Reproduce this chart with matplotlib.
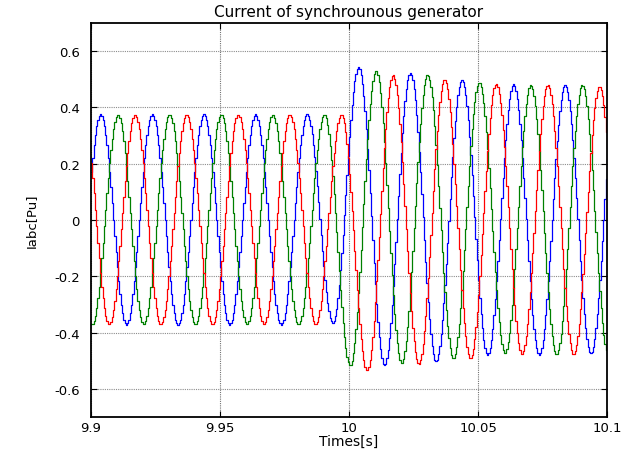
import numpy as np
import matplotlib
matplotlib.use("Agg")
import matplotlib.pyplot as plt

# half-cycle extrema (pu) of each phase current
# successive extrema are 0.01 s apart, starting at the given time
half_period = 0.01
ia_start = 9.8935
ia_peaks = [-0.372, 0.375, -0.372, 0.375, -0.372, 0.375, -0.372, 0.375, -0.372, 0.375,
            -0.365, 0.542, -0.517, 0.523, -0.502, 0.497, -0.478, 0.483, -0.478, 0.479,
            -0.474, 0.475]
ib_start = 9.8902
ib_peaks = [0.375, -0.372, 0.375, -0.372, 0.375, -0.372, 0.375, -0.372, 0.375, -0.372,
            0.375, -0.517, 0.532, -0.509, 0.515, -0.491, 0.489, -0.474, 0.479, -0.478,
            0.479, -0.475]
ic_start = 9.8968
ic_peaks = [0.375, -0.372, 0.375, -0.372, 0.375, -0.372, 0.375, -0.372, 0.375, -0.372,
            0.375, -0.535, 0.515, -0.511, 0.499, -0.491, 0.483, -0.478, 0.479, -0.478,
            0.473, -0.470]

t_span = [9.9, 10.1]
t_step = 0.0005      # sample-and-hold step of the simulation output
x_ticks = [9.9, 9.95, 10.0, 10.05, 10.1]
x_ticklabels = ["9.9", "9.95", "10", "10.05", "10.1"]
y_ticks = [-0.6, -0.4, -0.2, 0.0, 0.2, 0.4, 0.6]
y_ticklabels = ["-0.6", "-0.4", "-0.2", "0", "0.2", "0.4", "0.6"]


def sampled_wave(t, t0, extrema):
    """half-cosine arcs joining the read extrema"""
    ext = np.asarray(extrema)
    tk = t0 + half_period * np.arange(len(ext))
    k = np.clip(np.searchsorted(tk, t, side="right") - 1, 0, len(ext) - 2)
    frac = (t - tk[k]) / half_period
    va, vb = ext[k], ext[k + 1]
    return (va + vb) / 2 + (va - vb) / 2 * np.cos(np.pi * frac)


plt.rcParams["font.family"] = ["DejaVu Sans"]

t = np.arange(t_span[0], t_span[1] + t_step, t_step)
fig = plt.figure(figsize=(6.34, 4.52), dpi=100)
ax = fig.add_axes([91 / 634, 34 / 452, 516 / 634, 394 / 452])

for start, ext, col in [(ia_start, ia_peaks, "#0000ff"),
                        (ib_start, ib_peaks, "#008000"),
                        (ic_start, ic_peaks, "#ff0000")]:
    ax.plot(t, sampled_wave(t, start, ext), color=col, lw=0.9, drawstyle="steps-post")

ax.set_xlim(t_span)
ax.set_ylim(-0.7, 0.7)
ax.set_xticks(x_ticks)
ax.set_xticklabels(x_ticklabels)
ax.set_yticks(y_ticks)
ax.set_yticklabels(y_ticklabels)
ax.tick_params(direction="in", length=4, width=0.8, top=True, right=True,
               labelsize=9.5)
ax.tick_params(axis="y", pad=8)
ax.tick_params(axis="x", pad=3)
for s in ax.spines.values():
    s.set_linewidth(1.3)
ax.xaxis.grid(True, color="0.45", lw=0.8, linestyle=(0, (1, 1)))
ax.yaxis.grid(True, color="0.55", lw=0.8, linestyle=(0, (1, 1)))

ax.set_title("Current of synchrounous generator", fontsize=11, pad=5)
ax.set_xlabel("Times[s]", fontsize=10, labelpad=0)
ax.set_ylabel("Iabc[Pu]", fontsize=9.5, labelpad=12)

fig.savefig("out.png", dpi=100)
